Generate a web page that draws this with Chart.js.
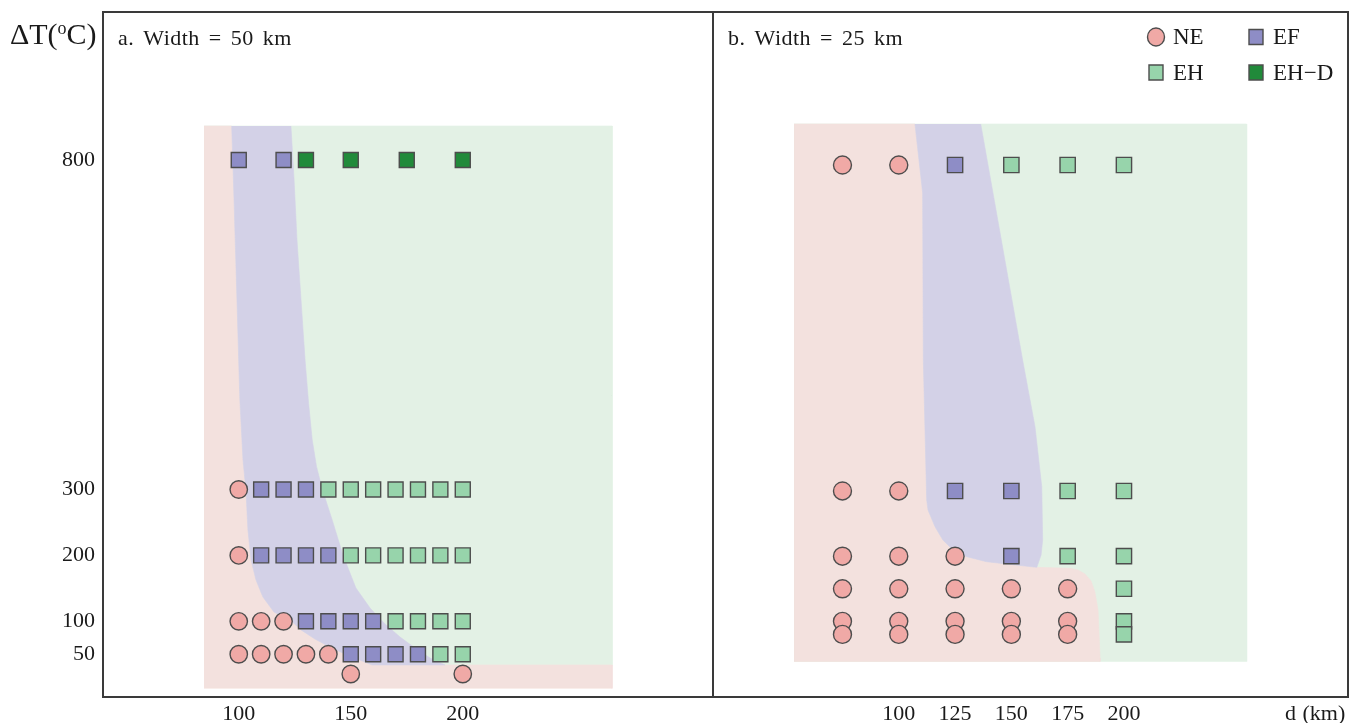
<!DOCTYPE html>
<html>
<head>
<meta charset="utf-8">
<script src="https://cdn.jsdelivr.net/npm/chart.js@4.4.1/dist/chart.umd.min.js"></script>
<style>
  html, body { margin: 0; padding: 0; background: #fff; width: 1351px; height: 723px; overflow: hidden; }
  #wrap { position: relative; width: 1351px; height: 723px; }
  canvas { position: absolute; top: 0; }
  #cA { left: 0; width: 760px; height: 723px; }
  #cB { left: 700px; width: 651px; height: 723px; }
</style>
</head>
<body>
<div id="wrap">
  <canvas id="cA" width="760" height="723"></canvas>
  <canvas id="cB" width="651" height="723"></canvas>
</div>
<script>
// ---- Model runs, [d (km), ΔT (°C)] ----
// a. Width = 50 km
const aNE  = [[100,300],[100,200],[100,100],[110,100],[120,100],
              [100,50],[110,50],[120,50],[130,50],[140,50],[150,20],[200,20]];
const aEF  = [[100,800],[120,800],
              [110,300],[120,300],[130,300],
              [110,200],[120,200],[130,200],[140,200],
              [130,100],[140,100],[150,100],[160,100],
              [150,50],[160,50],[170,50],[180,50]];
const aEH  = [[140,300],[150,300],[160,300],[170,300],[180,300],[190,300],[200,300],
              [150,200],[160,200],[170,200],[180,200],[190,200],[200,200],
              [170,100],[180,100],[190,100],[200,100],
              [190,50],[200,50]];
const aEHD = [[130,800],[150,800],[175,800],[200,800]];

// b. Width = 25 km
const bNE  = [[75,800],[100,800],
              [75,300],[100,300],
              [75,200],[100,200],[125,200],
              [75,150],[100,150],[125,150],[150,150],[175,150],
              [75,100],[100,100],[125,100],[150,100],[175,100],
              [75,80],[100,80],[125,80],[150,80],[175,80]];
const bEF  = [[125,800],[125,300],[150,300],[150,200]];
const bEH  = [[150,800],[175,800],[200,800],
              [175,300],[200,300],
              [175,200],[200,200],
              [200,150],[200,100],[200,80]];
const bEHD = [];

// ---- Tick labels ----
const yTicks  = [50, 100, 200, 300, 800];
const aXTicks = [100, 150, 200];
const bXTicks = [100, 125, 150, 175, 200];

// ---- Regime fields (outlines in d / ΔT units) ----
// panel a
const aBox      = [84.5, 266.7, 33.7, 851.6];     // dMin, dMax, ΔT bottom, ΔT top
const aNEBottom = -1.7;
const aEFInner  = [[96.85,851.6],[97.9,739.3],[99.2,587.5],[100.5,435.8],[101.9,344.7],[103.2,299.2],
                   [104.1,238.5],[105.5,193.0],[107.7,162.6],[110.8,136.8],[115.7,114.1],[124.0,98.9],
                   [127.8,86.8],[134.0,73.1],[140.7,61.0],[147.4,50.4],[154.1,41.2],[159.5,33.7]];
const aEFOuter  = [[123.3,851.6],[124.7,769.6],[126.0,678.6],[128.1,572.4],[129.6,496.5],[131.2,430.0],
                   [132.8,375.0],[134.7,335.0],[137.3,300.0],[141.6,255.0],[146.5,200.6],[152.3,150.5],
                   [158.6,120.2],[165.3,95.9],[172.0,76.1],[178.7,59.5],[185.4,44.3],[192.1,33.7]];
// panel b
const bBox      = [53.5, 254.5, 38.5, 862.9];
const bEFInner  = [[107.2,862.9],[110.6,757.1],[110.9,500.9],[112.4,286.2],[113.0,270.8],[116.1,245.2],
                   [119.6,224.8],[124.1,209.5],[130.2,199.2],[139.0,191.5],[147.9,188.0],[161.3,182.9]];
const bEFOuter  = [[136.4,862.9],[155.0,500.9],[160.5,398.6],[163.5,306.6],[163.9,224.8],[163.2,201.8],[161.3,182.9]];
const bNETail   = [[176.0,181.4],[179.6,178.8],[182.7,172.7],[185.4,161.9],[187.1,145.1],[188.5,117.4],
                   [189.4,43.8],[189.4,38.5]];

// ---- Styles ----
const SERIF = "'Liberation Serif', 'Times New Roman', Times, serif";
Chart.defaults.font.family = SERIF;
Chart.defaults.color = '#1a1a1a';

const classStyle = {
  'NE':   { pointStyle: 'circle', backgroundColor: '#f0a9a6' },
  'EF':   { pointStyle: 'rect',   backgroundColor: '#8e8dc6' },
  'EH':   { pointStyle: 'rect',   backgroundColor: '#97d4ab' },
  'EH−D': { pointStyle: 'rect',   backgroundColor: '#218a3a' }
};
const fieldColor = { NE: '#f3e1de', EF: '#d3d1e7', EH: '#e3f1e5' };

const toXY = pts => pts.map(p => ({ x: p[0], y: p[1] }));

function markers(label, pts, circleR, rectR) {
  const st = classStyle[label];
  return {
    label,
    data: toXY(pts),
    pointStyle: st.pointStyle,
    backgroundColor: st.backgroundColor,
    borderColor: '#4d4d4d',
    borderWidth: 1.4,
    pointRadius: st.pointStyle === 'circle' ? circleR : rectR,
    showLine: false,
    order: 0
  };
}

function field(label, pts, color, order) {
  return {
    label,
    data: toXY(pts),
    showLine: true,
    fill: 'shape',
    backgroundColor: color,
    borderColor: color,
    borderWidth: 0.6,
    pointRadius: 0,
    tension: 0,
    order
  };
}

function rect(box, bottom) {
  const [x0, x1, y0, y1] = box;
  const yb = bottom === undefined ? y0 : bottom;
  return [[x0, y1], [x1, y1], [x1, yb], [x0, yb]];
}

// panel a fields
const aGreen = rect(aBox);
const aPink  = [[aBox[0], aBox[3]], ...aEFInner, [aBox[1], aBox[2]], [aBox[1], aNEBottom], [aBox[0], aNEBottom]];
const aLav   = [...aEFInner, ...aEFOuter.slice().reverse()];
// panel b fields
const bGreen = rect(bBox);
const bPink  = [[bBox[0], bBox[3]], ...bEFInner, ...bNETail, [bBox[0], bBox[2]]];
const bLav   = [...bEFInner, ...bEFOuter.slice(0, -1).reverse()];

// ---- Plugins ----
const framePlugin = {
  id: 'frame',
  afterDraw(chart) {
    const { ctx, chartArea: a } = chart;
    ctx.save();
    ctx.strokeStyle = '#3a3a3a';
    ctx.lineWidth = 2;
    ctx.strokeRect(a.left, a.top, a.right - a.left, a.bottom - a.top);
    ctx.restore();
  }
};

function textPlugin(items) {
  return {
    id: 'panelText',
    afterDraw(chart) {
      const ctx = chart.ctx;
      ctx.save();
      ctx.fillStyle = '#1a1a1a';
      ctx.textBaseline = 'alphabetic';
      ctx.textAlign = 'left';
      for (const it of items) {
        if (it.parts) {
          let x = it.x;
          for (const p of it.parts) {
            ctx.font = p.size + 'px ' + SERIF;
            ctx.fillText(p.t, x, it.y + (p.dy || 0));
            x += ctx.measureText(p.t).width + (p.gap || 0);
          }
        } else {
          ctx.font = it.size + 'px ' + SERIF;
          if ('wordSpacing' in ctx) ctx.wordSpacing = (it.ws || 0) + 'px';
          if ('letterSpacing' in ctx) ctx.letterSpacing = (it.ls || 0) + 'px';
          ctx.fillText(it.t, it.x, it.y);
          if ('wordSpacing' in ctx) ctx.wordSpacing = '0px';
          if ('letterSpacing' in ctx) ctx.letterSpacing = '0px';
        }
      }
      ctx.restore();
    }
  };
}

// 2 x 2 key of the run classes
const legendGrid = [['NE', 'EF'], ['EH', 'EH−D']];
const legendPlugin = {
  id: 'classKey',
  afterDraw(chart) {
    const ctx = chart.ctx;
    const colX = [456, 556], rowY = [37, 72.5];
    ctx.save();
    legendGrid.forEach((row, r) => row.forEach((name, c) => {
      const ds = chart.data.datasets.find(d => d.label === name);
      const cx = colX[c], cy = rowY[r];
      ctx.fillStyle = ds.backgroundColor;
      ctx.strokeStyle = '#4d4d4d';
      ctx.lineWidth = 1.4;
      ctx.beginPath();
      if (ds.pointStyle === 'circle') {
        ctx.ellipse(cx, cy, 8.5, 9, 0, 0, Math.PI * 2);
      } else {
        ctx.rect(cx - 7, cy - 7.5, 14, 15);
      }
      ctx.fill();
      ctx.stroke();
      ctx.fillStyle = '#1a1a1a';
      ctx.font = '23px ' + SERIF;
      ctx.textAlign = 'left';
      ctx.textBaseline = 'middle';
      ctx.fillText(name, cx + 17, cy + 1);
    }));
    ctx.restore();
  }
};

function xAxis(min, max, ticks) {
  return {
    type: 'linear', position: 'bottom', min, max,
    grid: { display: false, drawTicks: false },
    border: { display: false },
    afterBuildTicks: s => { s.ticks = ticks.map(v => ({ value: v })); },
    afterFit: s => { s.height = 26; s.paddingLeft = 0; s.paddingRight = 0; },
    ticks: { padding: 4, font: { size: 22 }, color: '#1a1a1a', autoSkip: false, maxRotation: 0 }
  };
}

function yAxis(min, max, show) {
  return {
    type: 'linear', position: 'left', min, max, display: show,
    grid: { display: false, drawTicks: false },
    border: { display: false },
    afterBuildTicks: s => { s.ticks = yTicks.map(v => ({ value: v })); },
    afterFit: s => {
      if (show) s.width = 103;
      s.paddingTop = 0;
      s.paddingBottom = 0;
    },
    ticks: { padding: 8, font: { size: 22 }, color: '#1a1a1a', autoSkip: false }
  };
}

const common = {
  responsive: false,
  animation: false,
  events: [],
  plugins: { legend: { display: false }, tooltip: { enabled: false } }
};

// panel a
new Chart(document.getElementById('cA'), {
  type: 'scatter',
  data: {
    datasets: [
      markers('NE', aNE, 8.7, 10.6),
      markers('EF', aEF, 8.7, 10.6),
      markers('EH', aEH, 8.7, 10.6),
      markers('EH−D', aEHD, 8.7, 10.6),
      field('EF field', aLav, fieldColor.EF, 10),
      field('NE field', aPink, fieldColor.NE, 20),
      field('EH field', aGreen, fieldColor.EH, 30)
    ]
  },
  options: {
    ...common,
    layout: { autoPadding: false, padding: { left: 0, right: 47, top: 12, bottom: 0 } },
    scales: { x: xAxis(39.4, 311.7, aXTicks), y: yAxis(-14.9, 1024.6, true) }
  },
  plugins: [framePlugin, textPlugin([
    { parts: [{ t: 'ΔT(', size: 30 }, { t: 'o', size: 18, dy: -10 }, { t: 'C)', size: 30 }], x: 10, y: 44 },
    { t: 'a. Width = 50 km', size: 22, x: 118, y: 45, ws: 3, ls: 0.5 }
  ])]
});

// panel b
new Chart(document.getElementById('cB'), {
  type: 'scatter',
  data: {
    datasets: [
      markers('NE', bNE, 9, 10.8),
      markers('EF', bEF, 9, 10.8),
      markers('EH', bEH, 9, 10.8),
      markers('EH−D', bEHD, 9, 10.8),
      field('EF field', bLav, fieldColor.EF, 10),
      field('NE field', bPink, fieldColor.NE, 20),
      field('EH field', bGreen, fieldColor.EH, 30)
    ]
  },
  options: {
    ...common,
    layout: { autoPadding: false, padding: { left: 13, right: 3, top: 12, bottom: 0 } },
    scales: { x: xAxis(17.5, 299.5, bXTicks), y: yAxis(-16, 1034.7, false) }
  },
  plugins: [framePlugin, legendPlugin, textPlugin([
    { t: 'b. Width = 25 km', size: 22, x: 28, y: 45, ws: 3, ls: 0.5 },
    { t: 'd (km)', size: 22, x: 585, y: 720, ws: 1 }
  ])]
});
</script>
</body>
</html>
